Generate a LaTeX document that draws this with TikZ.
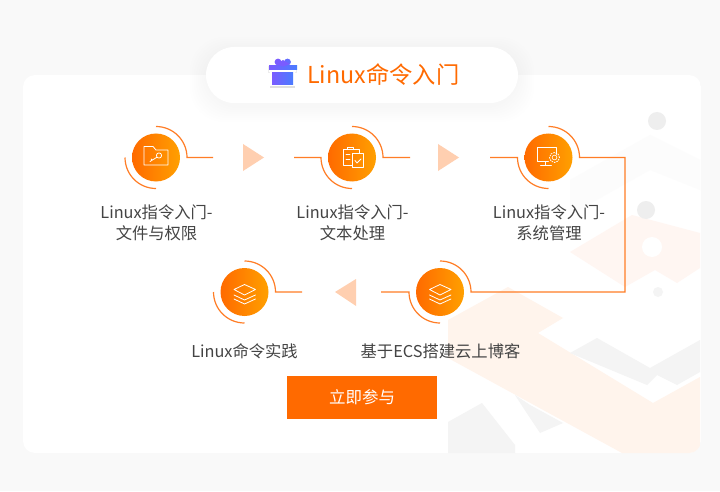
\documentclass[tikz,border=0pt]{standalone}
\usepackage{fontspec}
\setmainfont{Noto Sans CJK SC}
\usepackage{tikz}
\usetikzlibrary{calc}

\definecolor{pagebg}{HTML}{F9F9F9}
\definecolor{mainorange}{HTML}{FF6A00}
\definecolor{endorange}{HTML}{FFA000}
\definecolor{linkorange}{HTML}{FF7D26}
\definecolor{peach}{HTML}{FFCFB0}
\definecolor{labelgray}{HTML}{444444}
\definecolor{paleorange}{HTML}{FFF4EC}
\definecolor{palerose}{HTML}{FFF6F2}
\definecolor{palegray}{HTML}{F4F4F4}
\definecolor{dotgray}{HTML}{EEEEEE}
\definecolor{giftleft}{HTML}{7A5CFF}
\definecolor{giftright}{HTML}{4A7CFF}

\tikzset{
  stepdot/.style={circle,minimum size=48pt,inner sep=0pt,left color=mainorange,right color=endorange},
  steplabel/.style={text=labelgray,align=center,font=\fontsize{16.3}{21}\selectfont},
  link/.style={linkorange,line width=1.2pt},
  icon/.style={white,line width=0.8pt,line join=round,line cap=round},
  turn/.style={fill=peach}
}

\begin{document}
\begin{tikzpicture}[x=1pt,y=1pt]
    \useasboundingbox (0,0) rectangle (720,491);
    \fill[pagebg] (0,0) rectangle (720,491);

    % card with the faint picture in its corner
    \begin{scope}
      \clip[rounded corners=12pt] (23,38) rectangle (701,416);
      \fill[white] (23,38) rectangle (701,416);
      \begin{scope}[shift={(0,491)},y=-1pt]
        \fill[paleorange] (448,320) -- (508,287) -- (563,318) -- (538,333) -- (653,403) -- (700,377) -- (700,453) -- (622,453) -- (448,358) -- cycle;
        \fill[palegray] (570,353) -- (597,338) -- (650,368) -- (700,340) -- (700,372) -- (677,385) -- (657,375) -- (647,385) -- cycle;
        \fill[palegray] (448,422) -- (482,403) -- (515,445) -- (515,453) -- (448,453) -- cycle;
        \fill[palegray] (515,395) -- (530,405) -- (563,423) -- (540,433) -- (528,415) -- cycle;
        \fill[palerose] (570,252) -- (632,215) -- (700,233) -- (700,268) -- (677,283) -- (655,270) -- (625,287) -- cycle;
        \fill[pagebg!50!white] (570,180) -- (650,135) -- (700,160) -- (700,190) -- (650,170) -- (570,215) -- cycle;
        \fill[dotgray] (657,121) circle (9);
        \fill[dotgray] (646,210) circle (9);
        \fill[white] (652,247) circle (10);
        \fill[palegray] (658,292) circle (5);
      \end{scope}
    \end{scope}

    % title pill
    \foreach \g in {2,4,...,16}
      \fill[black,opacity=0.004,rounded corners=34pt] (206-\g,388-\g-3) rectangle (518+\g,444+\g-6);
    \fill[white,rounded corners=28pt] (206,388) rectangle (518,444);
    \node[inner sep=0pt,anchor=west,text=mainorange,font=\fontsize{23.3}{28}\selectfont] (title) at (307,416) {Linux命令入门};

    % gift
    \fill[black!12] (270,403) rectangle (295,407);
    \fill[black!7] (268,418) rectangle (297,425);
    \fill[white] (270,404.5) rectangle (295,419);
    \fill[white] (269,419) rectangle (296,425);
    \fill[left color=giftleft,right color=giftright] (272,406) rectangle (293,418);
    \fill[left color=giftleft,right color=giftright] (269,421) rectangle (297,425);
    \fill[giftleft] (278,429) circle (3.4);
    \fill[giftright!50!giftleft] (287.5,429) circle (3.4);
    \fill[giftleft] (276,427) -- (283,424.5) -- (290,427) -- (283,431) -- cycle;

    % steps
    \node[stepdot] (step1) at (156,333.5) {};
    \node[stepdot] (step2) at (352,333.5) {};
    \node[stepdot] (step3) at (548.5,333.5) {};
    \node[stepdot] (step4) at (244.5,199) {};
    \node[stepdot] (step5) at (440,199) {};

    \node[steplabel] (label1) at (156.5,268) {Linux指令入门-\\文件与权限};
    \node[steplabel] (label2) at (352.5,268) {Linux指令入门-\\文本处理};
    \node[steplabel] (label3) at (549,268) {Linux指令入门-\\系统管理};
    \node[steplabel] (label4) at (244.5,140) {Linux命令实践};
    \node[steplabel] (label5) at (440.5,140) {基于ECS搭建云上博客};

    % free ends of the links
    \coordinate (out1) at (213,333.5);
    \coordinate (in2) at (294,333.5);
    \coordinate (out2) at (410,333.5);
    \coordinate (in3) at (490,333.5);
    \coordinate (bendA) at (625,333.5);
    \coordinate (bendB) at (625,199);
    \coordinate (out5) at (381,199);
    \coordinate (in4) at (302,199);

    % upper arcs run into the outgoing line
    \draw[link] ($(step1)+(0,31)$) arc[start angle=90,end angle=0,radius=31pt] -- (out1);
    \draw[link] ($(step2)+(0,31)$) arc[start angle=90,end angle=0,radius=31pt] -- (out2);
    \draw[link] ($(step3)+(0,31)$) arc[start angle=90,end angle=0,radius=31pt] -- (bendA) -- (bendB) -- ($(step5)+(31,0)$) arc[start angle=0,end angle=90,radius=31pt];
    \draw[link] ($(step4)+(0,31)$) arc[start angle=90,end angle=0,radius=31pt] -- (in4);
    % lower arcs
    \draw[link] ($(step1)+(-31,0)$) arc[start angle=180,end angle=270,radius=31pt];
    \draw[link] (in2) -- ($(step2)+(-31,0)$) arc[start angle=180,end angle=270,radius=31pt];
    \draw[link] (in3) -- ($(step3)+(-31,0)$) arc[start angle=180,end angle=270,radius=31pt];
    \draw[link] ($(step4)+(-31,0)$) arc[start angle=180,end angle=270,radius=31pt];
    \draw[link] (out5) -- ($(step5)+(-31,0)$) arc[start angle=180,end angle=270,radius=31pt];

    % triangles between the steps
    \fill[turn] (243,347) -- (243,320) -- (264,333.5) -- cycle;
    \fill[turn] (438,347) -- (438,320) -- (459,333.5) -- cycle;
    \fill[turn] (356,212) -- (356,185) -- (335,199) -- cycle;

    % folder with key
    \begin{scope}[shift={(step1.center)}]
      \draw[icon] (-12,-7.5) -- (-12,11) -- (-3,11) -- (0,7.5) -- (12,7.5) -- (12,-7.5) -- cycle;
      \draw[icon] (3,2) circle (2.6);
      \draw[icon] (1,0.3) -- (-6,-4) (-4,-2.8) -- (-4.8,-1.4);
    \end{scope}
    % clipboard with check
    \begin{scope}[shift={(step2.center)}]
      \draw[icon] (0,-8) -- (-9,-8) -- (-9,8) -- (7,8) -- (7,4);
      \draw[icon] (-5,8) -- (-5,10) -- (1,10) -- (1,8);
      \draw[icon] (-6,3) -- (-2,3) (-6,-2) -- (-2,-2);
      \draw[icon] (0,-10) rectangle (11,4);
      \draw[icon] (3,-3) -- (5,-5.5) -- (9,-1.5);
    \end{scope}
    % monitor with gear
    \begin{scope}[shift={(step3.center)}]
      \draw[icon] (0,-4) -- (-11.5,-4) -- (-11.5,10) -- (8,10) -- (8,3);
      \draw[icon] (-3,-4) -- (-3,-8) (-8,-8) -- (3,-8);
      \draw[icon,line cap=butt,dash pattern=on 1.5pt off 1pt] (6,0) circle (5);
      \draw[icon,line width=0.6pt] (6,0) circle (2.4);
    \end{scope}
    % layers
    \foreach \n in {step4,step5} {
      \begin{scope}[shift={(\n.center)}]
        \draw[icon] (-10.5,2.5) -- (0,7.5) -- (11,2.5) -- (0,-3) -- cycle;
        \draw[icon] (-10.5,-3) -- (0,-8) -- (11,-3);
        \draw[icon] (-10.5,-7) -- (0,-12) -- (11,-7);
      \end{scope}
    }

    % button
    \node[fill=mainorange,text=white,minimum width=150pt,minimum height=43pt,inner sep=0pt,font=\fontsize{16.5}{20}\selectfont] (joinbtn) at (362,93.5) {立即参与};
\end{tikzpicture}
\end{document}
